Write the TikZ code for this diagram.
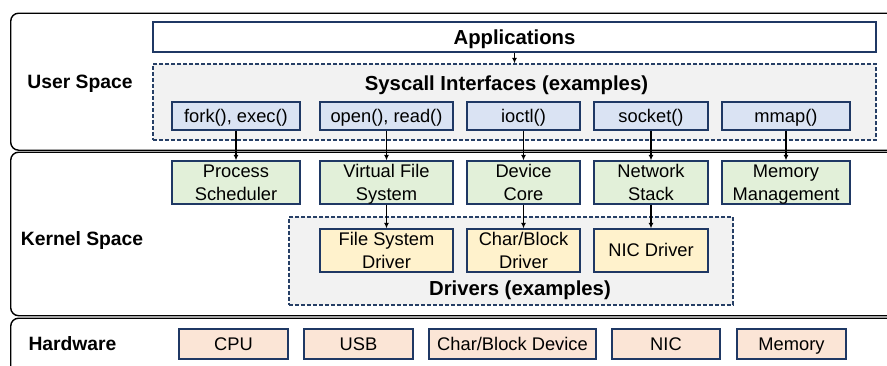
\documentclass[tikz,border=0pt]{standalone}
\usepackage{fontspec}
\setmainfont{Liberation Sans}
\usetikzlibrary{arrows.meta}
\definecolor{navy}{HTML}{1F3864}
\definecolor{dashc}{HTML}{263F66}
\definecolor{sysfill}{HTML}{DAE3F3}
\definecolor{kfill}{HTML}{E2F0D9}
\definecolor{dfill}{HTML}{FFF2CC}
\definecolor{hfill}{HTML}{FBE5D6}
\definecolor{grayfill}{HTML}{F2F2F2}
\newcommand{\mystrut}{\vrule width 0pt height 0.9em depth 0.21em}
\begin{document}
\begin{tikzpicture}[x=1pt,y=-1pt,
  layer/.style={draw=black, line width=1.4pt, rounded corners=8pt, inner sep=0pt, anchor=north west},
  group/.style={draw=dashc, fill=grayfill, line width=1.3pt, dash pattern=on 4pt off 2pt, inner sep=0pt},
  box/.style={draw=navy, line width=1.3pt, inner sep=0pt, align=center, font=\fontsize{18.3}{22.5}\selectfont},
  sysbox/.style={box, fill=sysfill, minimum height=28pt},
  kbox/.style={box, fill=kfill, minimum height=43pt},
  dbox/.style={box, fill=dfill, minimum height=43pt},
  hbox/.style={box, fill=hfill, minimum height=30pt},
  title/.style={anchor=base, font=\bfseries\fontsize{20.3}{24}\selectfont},
  lname/.style={anchor=base, font=\bfseries\fontsize{19.3}{23}\selectfont},
  arr/.style={line width=1.3pt, -{Latex[length=5.5pt,width=5pt]}}
]
\useasboundingbox (0,0) rectangle (887,365);
\clip (0,0) rectangle (887,365);
\fill[white] (0,0) rectangle (887,365);

% layers
\node[layer, minimum width=895pt, minimum height=137pt] (user) at (10,12.5) {};
\node[layer, minimum width=895pt, minimum height=163.5pt] (kernel) at (10,151.5) {};
\node[layer, minimum width=895pt, minimum height=70pt] (hw) at (10,317.5) {};

\node[lname] (lu) at (80,88) {User Space};
\node[lname] (lk) at (82,245) {Kernel Space};
\node[lname] (lh) at (72.5,350) {Hardware};

% user space
\node[box, fill=white, minimum width=723pt, minimum height=30pt, font=\bfseries\fontsize{20.3}{24}\selectfont] (apps) at (514.5,37) {\mystrut Applications};
\node[group, minimum width=723pt, minimum height=76pt] (sys) at (514.5,102) {};
\node[title] (systitle) at (506.5,90) {Syscall Interfaces (examples)};

\node[sysbox, minimum width=128pt] (fork) at (236,116) {\mystrut fork(), exec()};
\node[sysbox, minimum width=133pt] (open) at (386.5,116) {\mystrut open(), read()};
\node[sysbox, minimum width=113pt] (ioctl) at (523.5,116) {\mystrut ioctl()};
\node[sysbox, minimum width=114pt] (socket) at (651,116) {\mystrut socket()};
\node[sysbox, minimum width=128pt] (mmap) at (786,116) {\mystrut mmap()};

% kernel space
\node[kbox, minimum width=128pt] (ps) at (236,182.5) {\mystrut Process\\\mystrut Scheduler};
\node[kbox, minimum width=133pt] (vfs) at (386.5,182.5) {\mystrut Virtual File\\\mystrut System};
\node[kbox, minimum width=113pt] (dc) at (523.5,182.5) {\mystrut Device\\\mystrut Core};
\node[kbox, minimum width=114pt] (ns) at (651,182.5) {\mystrut Network\\\mystrut Stack};
\node[kbox, minimum width=128pt] (mm) at (786,182.5) {\mystrut Memory\\\mystrut Management};

\node[group, minimum width=444pt, minimum height=88pt] (drv) at (511,261) {};
\node[title] (drvtitle) at (520,295) {Drivers (examples)};
\node[dbox, minimum width=133pt] (fsd) at (386.5,250.5) {\mystrut File System\\\mystrut Driver};
\node[dbox, minimum width=113pt] (cbd) at (523.5,250.5) {\mystrut Char/Block\\\mystrut Driver};
\node[dbox, minimum width=114pt] (nicd) at (651,250.5) {\mystrut NIC Driver};

% hardware
\node[hbox, minimum width=109pt] (cpu) at (233.5,344) {\mystrut CPU};
\node[hbox, minimum width=109pt] (usb) at (358.5,344) {\mystrut USB};
\node[hbox, minimum width=167pt] (cbdev) at (512.5,344) {\mystrut Char/Block Device};
\node[hbox, minimum width=108pt] (nic) at (666,344) {\mystrut NIC};
\node[hbox, minimum width=109pt] (mem) at (791.5,344) {\mystrut Memory};

% connectors
\draw[arr] (apps) -- (sys);
\draw[arr] (fork) -- (ps);
\draw[arr] (open) -- (vfs);
\draw[arr] (ioctl) -- (dc);
\draw[arr] (socket) -- (ns);
\draw[arr] (mmap) -- (mm);
\draw[arr] (vfs) -- (fsd);
\draw[arr] (dc) -- (cbd);
\draw[arr] (ns) -- (nicd);
\end{tikzpicture}
\end{document}
